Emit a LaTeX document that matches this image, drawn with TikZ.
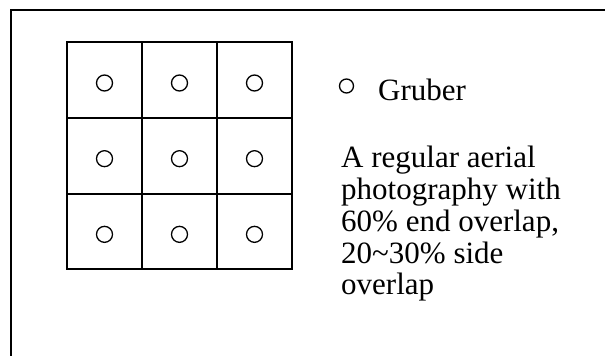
\documentclass[tikz,border=0pt]{standalone}
\usepackage{fontspec}
\setmainfont{Liberation Serif}

\begin{document}
\begin{tikzpicture}[x=1pt,y=-1pt,
  frameline/.style={line width=2pt},
  gridline/.style={line width=1.8pt},
  photo/.style={circle, draw, line width=1.3pt, minimum size=16pt, inner sep=0pt},
  caption/.style={font=\fontsize{31}{31.8}\selectfont, inner sep=0pt}]
  % Page
  \useasboundingbox (0,0) rectangle (605,356);

  % Frame (open to the right and bottom)
  \draw[frameline] (11,356) -- (11,10) -- (605,10);

  % Block of photographs
  \draw[gridline] (67,42.3) rectangle (292,269.3);
  \foreach \k in {1,2} {
    \draw[gridline] ({67+75*\k},42.3) -- ({67+75*\k},269.3);
    \draw[gridline] (67,{42.3+75.67*\k}) -- (292,{42.3+75.67*\k});
  }

  % Photo centres
  \foreach \i in {0,1,2} {
    \foreach \j in {0,1,2} {
      \node[photo] (c\i\j) at ({104.5+75*\i},{83+75.67*\j}) {};
    }
  }

  % Legend
  \node[photo, minimum size=14pt] (key) at (346.5,86) {};
  \node[caption, anchor=base west] (gruber) at (378,100) {Gruber};
  \node[caption, anchor=north west, align=left] (note) at (341,146)
    {A regular aerial\\photography with\\60\% end overlap,\\20\textasciitilde30\% side\\overlap};
\end{tikzpicture}
\end{document}
